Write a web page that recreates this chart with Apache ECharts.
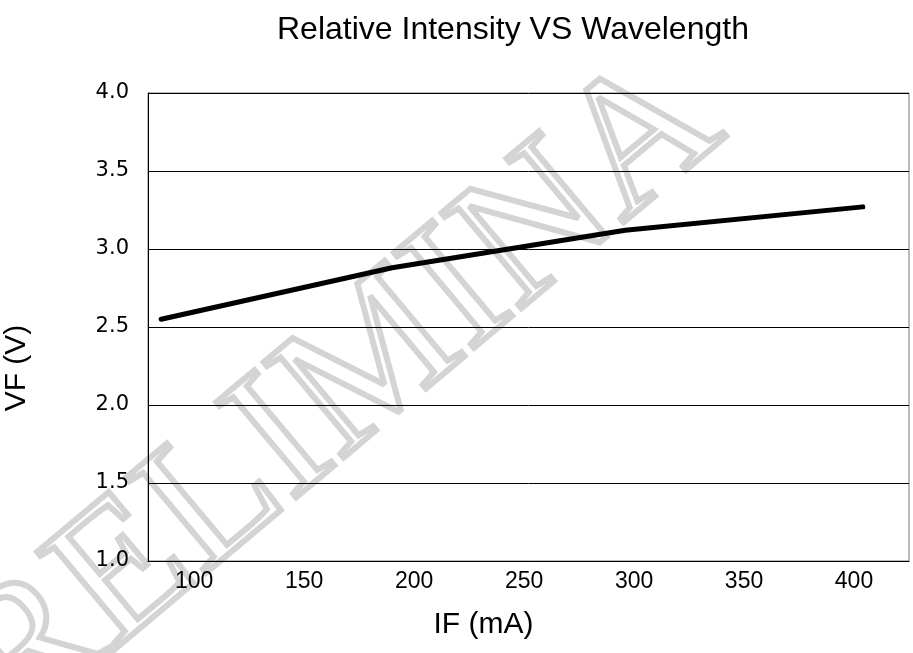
<!DOCTYPE html>
<html><head><meta charset="utf-8">
<script src="https://cdn.jsdelivr.net/npm/echarts@6/dist/echarts.min.js"></script>
<style>html,body{margin:0;padding:0;background:#fff}#c{width:913px;height:653px}</style>
</head><body><div id="c"></div>
<script>
const titleText = 'Relative Intensity VS Wavelength';
const xName = 'IF (mA)';
const yName = 'VF (V)';
const watermarkText = 'PRELIMINA';
const ifValues = [85, 190, 296, 404];
const vfValues = [2.55, 2.88, 3.12, 3.27];
const xTickLabels = [100, 150, 200, 250, 300, 350, 400];
const yMin = 1.0, yMax = 4.0, yStep = 0.5;

const chart = echarts.init(document.getElementById('c'), null, {renderer: 'canvas'});
chart.setOption({
  backgroundColor: '#fff',
  animation: false,
  title: {
    text: titleText, left: 272, top: 9,
    textStyle: {fontFamily: '"Liberation Sans", Arial', fontSize: 32, fontWeight: 'normal', color: '#000'}
  },
  graphic: [{
    type: 'text', x: -97, y: 762, rotation: 40 * Math.PI / 180, z: 0, zlevel: 0, silent: true,
    style: {text: watermarkText, font: '190px "Liberation Serif"', fill: 'rgba(255,255,255,0)',
            stroke: '#d4d4d4', lineWidth: 6, align: 'left', verticalAlign: 'middle'}
  }],
  grid: {left: 148, top: 93, right: 4, bottom: 92, show: true, borderColor: '#777', borderWidth: 1,
         backgroundColor: 'transparent', containLabel: false, outerBoundsMode: 'none', z: 5},
  xAxis: {
    type: 'value', min: 79, max: 425, z: 5,
    name: xName, nameLocation: 'middle', nameGap: 49,
    nameTextStyle: {fontFamily: '"Liberation Sans", Arial', fontSize: 30, color: '#000', padding: [0, 90, 0, 0]},
    axisLine: {show: true, lineStyle: {color: '#000', width: 1}},
    axisTick: {show: false},
    splitLine: {show: false},
    axisLabel: {customValues: xTickLabels, margin: 9, fontFamily: '"Liberation Sans", Arial', fontSize: 23, color: '#000'}
  },
  yAxis: {
    type: 'value', min: yMin, max: yMax, interval: yStep, z: 5,
    name: yName, nameLocation: 'middle', nameGap: 116, nameRotate: 90,
    nameTextStyle: {fontFamily: '"Liberation Sans", Arial', fontSize: 30, color: '#000', padding: [0, 82, 0, 0]},
    axisLine: {show: true, lineStyle: {color: '#000', width: 1}},
    axisTick: {show: false},
    splitLine: {show: true, lineStyle: {color: '#000', width: 1}},
    axisLabel: {margin: 19, fontFamily: '"DejaVu Sans", Verdana', fontSize: 21, color: '#000', formatter: v => v.toFixed(1)}
  },
  series: [{
    type: 'line', data: ifValues.map((x, i) => [x, vfValues[i]]),
    symbol: 'none', lineStyle: {color: '#000', width: 5, cap: 'round', join: 'round'}, z: 10
  }]
});
</script></body></html>
